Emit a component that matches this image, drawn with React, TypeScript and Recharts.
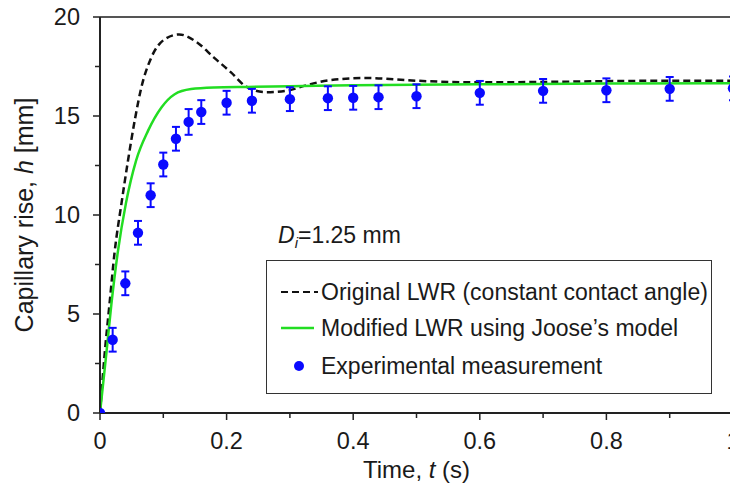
import { ComposedChart, Line, Scatter, ErrorBar, XAxis, YAxis, ReferenceLine, Legend } from "recharts";

// Original LWR (constant contact angle), dashed black curve
const originalT = [0, 0.0074, 0.015, 0.023, 0.034, 0.044, 0.055, 0.065, 0.081, 0.102, 0.125, 0.154, 0.18, 0.207, 0.23, 0.262, 0.294, 0.326, 0.36, 0.42, 0.5, 0.6, 0.7, 0.8, 0.9, 1.0];
const originalH = [0, 3.0, 5.5, 8.1, 10.6, 12.7, 14.8, 16.4, 17.95, 18.87, 19.12, 18.7, 17.95, 17.2, 16.5, 16.2, 16.27, 16.55, 16.8, 16.92, 16.78, 16.7, 16.72, 16.76, 16.78, 16.78];

// Modified LWR using Joose's model, green curve
const modifiedT = [0, 0.01, 0.018, 0.028, 0.041, 0.057, 0.076, 0.097, 0.118, 0.144, 0.18, 0.233, 0.3, 0.4, 0.6, 0.8, 1.0];
const modifiedH = [0, 3.0, 5.5, 8.1, 10.6, 12.75, 14.26, 15.43, 16.1, 16.36, 16.44, 16.47, 16.5, 16.55, 16.6, 16.64, 16.66];

// Experimental measurement with error bars
const expT = [0, 0.02, 0.04, 0.06, 0.08, 0.1, 0.12, 0.14, 0.16, 0.2, 0.24, 0.3, 0.36, 0.4, 0.44, 0.5, 0.6, 0.7, 0.8, 0.9, 1.0];
const expH = [0, 3.7, 6.55, 9.1, 11.0, 12.55, 13.85, 14.7, 15.2, 15.67, 15.77, 15.85, 15.9, 15.92, 15.95, 16.0, 16.17, 16.27, 16.3, 16.37, 16.4];
const expErr = [0, 0.6, 0.6, 0.6, 0.6, 0.6, 0.6, 0.65, 0.6, 0.6, 0.6, 0.6, 0.6, 0.6, 0.6, 0.6, 0.6, 0.6, 0.6, 0.6, 0.6];

const xTicks = [0, 0.1, 0.2, 0.3, 0.4, 0.5, 0.6, 0.7, 0.8, 0.9, 1.0];
const yTicks = [0, 2.5, 5, 7.5, 10, 12.5, 15, 17.5, 20];

const originalData = originalT.map((t, i) => ({ t, h: originalH[i] }));
const modifiedData = modifiedT.map((t, i) => ({ t, h: modifiedH[i] }));
const expData = expT.map((t, i) => ({ t, h: expH[i], err: expErr[i] }));

const FONT = "'Liberation Sans', Arial, sans-serif";
const TEXT = "#1a1a1a";
const BLUE = "#0a0aff";
const GREEN = "#22dd22";

function XTick({ x, y, payload }: any) {
  const v = payload.value;
  const major = Math.abs(v * 10 - Math.round(v * 5) * 2) < 1e-6;
  return (
    <g>
      <line x1={x} x2={x} y1={y} y2={y + (major ? 7 : 5)} stroke="#222" strokeWidth={1.5} />
      {major && (
        <text x={x} y={y + 28} textAnchor="middle" dominantBaseline="central" fontSize={23.5} fontFamily={FONT} fill={TEXT}>
          {v === 0 ? "0" : v === 1 ? "1" : v.toFixed(1)}
        </text>
      )}
    </g>
  );
}

function YTick({ x, y, payload }: any) {
  const v = payload.value;
  const major = v % 5 === 0;
  return (
    <g>
      <line x1={x - (major ? 7 : 5)} x2={x} y1={y} y2={y} stroke="#222" strokeWidth={1.5} />
      {major && (
        <text x={x - 20} y={y} textAnchor="end" dominantBaseline="central" fontSize={23.5} fontFamily={FONT} fill={TEXT}>
          {v}
        </text>
      )}
    </g>
  );
}

function XTitle({ viewBox }: any) {
  const { x, y, width } = viewBox;
  return (
    <text x={x + width / 2} y={y + 56} textAnchor="middle" dominantBaseline="central" fontSize={24} fontFamily={FONT} fill={TEXT}>
      Time, <tspan fontStyle="italic">t</tspan> (s)
    </text>
  );
}

function YTitle({ viewBox }: any) {
  const { x, y, height } = viewBox;
  const cx = x + 24;
  const cy = y + height / 2;
  return (
    <text x={cx} y={cy} transform={`rotate(-90 ${cx} ${cy})`} textAnchor="middle" dominantBaseline="central" fontSize={25} fontFamily={FONT} fill={TEXT}>
      Capillary rise, <tspan fontStyle="italic">h</tspan> [mm]
    </text>
  );
}

function Dot({ cx, cy }: any) {
  return <circle cx={cx} cy={cy} r={5.2} fill={BLUE} />;
}

function LegendBox() {
  const row = { display: "flex", alignItems: "center", height: 36, whiteSpace: "nowrap" as const };
  return (
    <div style={{ border: "1.5px solid #333", width: 446, height: 134, boxSizing: "border-box", padding: "13px 0 0 13px", fontFamily: FONT, fontSize: 23, color: TEXT, background: "#fff" }}>
      <div style={row}>
        <svg width={40} height={10} style={{ marginRight: 1 }}>
          <line x1={1} x2={38} y1={5} y2={5} stroke="#111" strokeWidth={2} strokeDasharray="7 4" />
        </svg>
        <span>Original LWR (constant contact angle)</span>
      </div>
      <div style={row}>
        <svg width={40} height={10} style={{ marginRight: 1 }}>
          <line x1={1} x2={34} y1={5} y2={5} stroke={GREEN} strokeWidth={2.5} />
        </svg>
        <span>Modified LWR using Joose’s model</span>
      </div>
      <div style={{ ...row, height: 40 }}>
        <svg width={40} height={12} style={{ marginRight: 1 }}>
          <circle cx={19} cy={6} r={5} fill={BLUE} />
        </svg>
        <span>Experimental measurement</span>
      </div>
    </div>
  );
}

export default function App() {
  return (
    <div style={{ position: "fixed", left: 0, top: 0, width: 730, height: 492, overflow: "hidden", background: "#fff" }}>
      <ComposedChart width={730} height={492} margin={{ top: 17, right: -3, bottom: 19, left: 0 }}>
        <XAxis
          type="number"
          dataKey="t"
          domain={[0, 1]}
          ticks={xTicks}
          interval={0}
          allowDataOverflow
          tickSize={0}
          tickMargin={0}
          tickLine={false}
          tick={<XTick />}
          axisLine={{ stroke: "#222", strokeWidth: 2 }}
          height={60}
          label={<XTitle />}
        />
        <YAxis
          type="number"
          domain={[0, 20]}
          ticks={yTicks}
          interval={0}
          allowDataOverflow
          tickSize={0}
          tickMargin={0}
          tickLine={false}
          tick={<YTick />}
          axisLine={{ stroke: "#222", strokeWidth: 2 }}
          width={100}
          label={<YTitle />}
        />
        <ReferenceLine y={20} stroke="#555" strokeWidth={2} />
        <Line data={originalData} dataKey="h" type="monotone" stroke="#111" strokeWidth={2.5} strokeDasharray="7 4" dot={false} activeDot={false} isAnimationActive={false} />
        <Line data={modifiedData} dataKey="h" type="monotone" stroke={GREEN} strokeWidth={2.5} dot={false} activeDot={false} isAnimationActive={false} />
        <Scatter data={expData} dataKey="h" fill={BLUE} shape={<Dot />} isAnimationActive={false}>
          <ErrorBar dataKey="err" direction="y" width={4} stroke={BLUE} strokeWidth={2} isAnimationActive={false} />
        </Scatter>
        <Legend
          layout="horizontal"
          verticalAlign="middle"
          align="center"
          content={<LegendBox />}
          wrapperStyle={{ left: 266, top: 260, width: 446, height: 134 }}
        />
      </ComposedChart>
      <div style={{ position: "absolute", left: 278, top: 222, fontFamily: FONT, fontSize: 23, color: TEXT, whiteSpace: "nowrap" }}>
        <i>D</i>
        <sub style={{ fontSize: 15, fontStyle: "italic", verticalAlign: "-5px" }}>i</sub>=1.25 mm
      </div>
    </div>
  );
}
